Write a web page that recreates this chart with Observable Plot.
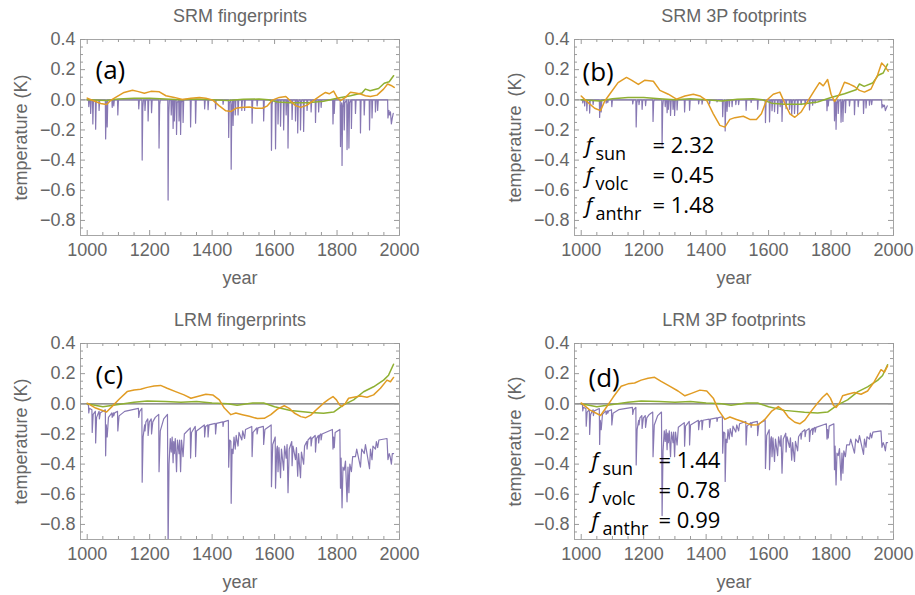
<!DOCTYPE html>
<html><head><meta charset="utf-8">
<script src="https://cdn.jsdelivr.net/npm/d3@7"></script>
<script src="https://cdn.jsdelivr.net/npm/@observablehq/plot@0.6"></script>
<style>
body{margin:0;width:915px;height:595px;overflow:hidden;background:#fff;position:relative}
.p{position:absolute}
</style>
</head><body>
<div id="pa" class="p" style="left:0;top:0"></div>
<div id="pb" class="p" style="left:494px;top:0"></div>
<div id="pc" class="p" style="left:0;top:304px"></div>
<div id="pd" class="p" style="left:494px;top:304px"></div>
<script>
// ---------- data ----------
const panelTitles = ["SRM fingerprints", "SRM 3P footprints", "LRM fingerprints", "LRM 3P footprints"];
const panelLetters = ["(a)", "(b)", "(c)", "(d)"];
const xTickLabels = [1000, 1200, 1400, 1600, 1800, 2000];
const yTickLabels = [-0.8, -0.6, -0.4, -0.2, 0.0, 0.2, 0.4];
const factorNames = ["sun", "volc", "anthr"];
const factorsSRM = [2.32, 0.45, 1.48];   // f_sun, f_volc, f_anthr (panel b)
const factorsLRM = [1.44, 0.78, 0.99];   // f_sun, f_volc, f_anthr (panel d)

// SRM fingerprints (panel a): [year, K]
const volcSRM = [
[1000,0],[1004,0],[1005,-0.045],[1007,0],[1010,0],[1011,-0.09],[1013,0],[1017,0],[1018,-0.16],[1020,0],[1026,0],[1027,-0.195],[1029,0],[1037,0],[1038,-0.07],[1040,0],[1058,0],[1059,-0.26],[1061,-0.04],[1063,0],[1064,-0.18],[1066,0],[1079,0],[1080,-0.05],[1082,0],[1084,0],[1085,-0.04],[1087,0],[1097,0],[1098,-0.10],[1100,0],
[1164,0],[1165,-0.06],[1167,0],[1175,0],[1176,-0.40],[1178,-0.05],[1180,0],[1184,0],[1185,-0.07],[1187,0],[1194,0],[1195,-0.14],[1197,0],[1205,0],[1206,-0.085],[1208,0],[1229,0],[1230,-0.32],[1232,-0.03],[1234,0],[1258,0],[1259,-0.665],[1261,-0.1],[1263,0],[1268,0],[1269,-0.10],[1271,0],[1274,0],[1275,-0.19],[1277,-0.02],[1278,0],[1279,-0.14],[1281,0],[1285,0],[1286,-0.23],[1288,-0.02],[1293,0],[1294,-0.14],[1296,0],[1298,0],[1299,-0.23],[1301,-0.02],[1303,0],[1306,0],[1307,-0.15],[1309,0],
[1330,0],[1331,-0.18],[1333,0],[1346,0],[1347,-0.155],[1349,0],[1375,0],[1376,-0.06],[1378,0],[1386,0],[1387,-0.065],[1389,0],[1410,0],[1411,-0.06],[1413,0],[1434,0],[1435,-0.03],[1437,0],[1452,0],[1453,-0.25],[1455,-0.02],[1460,0],[1461,-0.46],[1463,-0.05],[1466,0],[1467,-0.17],[1469,0],[1473,0],[1474,-0.10],[1476,0],[1482,0],[1483,-0.10],[1485,0],[1494,0],[1495,-0.07],[1497,0],[1503,0],[1504,-0.07],[1506,0],[1527,0],[1528,-0.155],[1530,0],[1543,0],[1544,-0.04],[1546,0],[1564,0],[1565,-0.14],[1567,0],[1589,0],[1590,-0.335],[1592,-0.03],[1594,0],[1602,0],[1603,-0.325],[1605,-0.03],[1607,0],[1610,0],[1611,-0.16],[1613,0],[1618,0],[1619,-0.175],[1621,0],[1628,0],[1629,-0.20],[1631,0],[1636,0],[1637,-0.10],[1639,0],[1642,0],[1643,-0.32],[1645,-0.02],[1647,0],
[1655,0],[1656,-0.13],[1658,0],[1666,0],[1667,-0.14],[1669,0],[1673,0],[1674,-0.22],[1676,-0.02],[1678,0],[1682,0],[1683,-0.20],[1685,-0.02],[1687,0],[1692,0],[1693,-0.21],[1695,0],[1703,0],[1704,-0.07],[1706,0],[1716,0],[1717,-0.08],[1719,0],[1730,0],[1731,-0.15],[1733,0],[1740,0],[1741,-0.08],[1743,0],[1748,0],[1749,-0.05],[1751,0],[1786,0],[1787,-0.16],[1789,0],[1790,0],[1791,-0.09],[1793,0],[1810,0],[1811,-0.31],[1813,-0.05],[1815,-0.02],[1816,-0.435],[1818,-0.05],[1822,0],[1823,-0.20],[1825,-0.02],[1831,0],[1832,-0.33],[1834,-0.05],[1837,0],[1838,-0.32],[1840,-0.02],[1845,0],[1846,-0.19],[1848,0],[1858,0],[1859,-0.09],[1861,0],[1874,0],[1875,-0.22],[1877,0],[1886,0],[1887,-0.10],[1889,0],[1903,0],[1904,-0.20],[1906,0],[1911,0],[1912,-0.12],[1914,0],[1922,0],[1923,-0.08],[1925,0],[1929,0],[1930,-0.07],[1932,0],[1962,0],[1963,-0.12],[1966,-0.07],[1968,-0.10],[1971,-0.08],[1974,-0.16],[1977,-0.12],[1980,-0.09]
];
const sunSRM = [[1000,0.011],[1016,-0.003],[1043,-0.024],[1062,-0.031],[1075,-0.004],[1091,0.016],[1118,0.049],[1145,0.064],[1161,0.056],[1183,0.044],[1204,0.056],[1231,0.053],[1252,0.027],[1279,0.016],[1305,0.002],[1332,0.011],[1359,0.016],[1380,0.011],[1402,-0.002],[1423,-0.04],[1444,-0.073],[1460,-0.078],[1476,-0.056],[1492,-0.051],[1519,-0.047],[1540,-0.056],[1561,-0.056],[1577,-0.04],[1593,-0.002],[1615,0.016],[1636,0.022],[1652,-0.01],[1668,-0.04],[1684,-0.05],[1704,-0.035],[1731,0.004],[1747,0.027],[1763,0.049],[1775,0.04],[1789,0.058],[1800,0.016],[1811,-0.005],[1827,0.016],[1843,0.05],[1859,0.045],[1875,0.038],[1891,0.027],[1907,0.022],[1928,0.031],[1949,0.071],[1962,0.105],[1973,0.095],[1983,0.082]];
const anthSRM = [[1000,0],[1060,-0.005],[1100,0.005],[1150,0.01],[1200,0.01],[1250,0.005],[1300,0.0],[1350,0.005],[1400,0.0],[1450,-0.005],[1500,0.003],[1550,0.005],[1580,0.0],[1610,-0.015],[1650,-0.02],[1704,-0.02],[1757,-0.01],[1800,0.01],[1843,0.027],[1880,0.045],[1891,0.071],[1906,0.06],[1933,0.075],[1951,0.11],[1967,0.12],[1981,0.16]];

// LRM fingerprints (panel c): [year, K]
const volcLRM = [
[1000,0.0],[1004,-0.01],[1005,-0.06],[1007,-0.03],[1015,-0.04],[1016,-0.19],[1019,-0.07],[1026,-0.05],[1027,-0.26],[1030,-0.09],[1038,-0.05],[1039,-0.10],[1042,-0.06],[1058,-0.04],[1059,-0.345],[1061,-0.14],[1064,-0.22],[1068,-0.09],[1079,-0.06],[1080,-0.09],[1084,-0.06],[1085,-0.08],[1088,-0.06],[1097,-0.05],[1098,-0.18],[1102,-0.08],[1120,-0.05],[1164,-0.03],[1165,-0.09],[1168,-0.05],[1175,-0.03],[1176,-0.52],[1179,-0.22],[1184,-0.14],[1185,-0.18],[1188,-0.12],[1194,-0.10],[1195,-0.21],[1199,-0.12],[1205,-0.10],[1206,-0.20],[1210,-0.12],[1218,-0.09],[1229,-0.07],[1230,-0.45],[1234,-0.18],[1245,-0.10],[1257,-0.07],[1259,-0.95],[1262,-0.40],[1266,-0.23],[1269,-0.32],[1272,-0.22],[1275,-0.39],[1277,-0.25],[1279,-0.33],[1282,-0.23],[1286,-0.45],[1289,-0.24],[1294,-0.33],[1296,-0.24],[1299,-0.45],[1302,-0.24],[1307,-0.35],[1311,-0.20],[1330,-0.16],[1331,-0.36],[1334,-0.19],[1346,-0.15],[1347,-0.35],[1350,-0.18],[1375,-0.14],[1376,-0.22],[1379,-0.15],[1386,-0.14],[1387,-0.22],[1390,-0.14],[1410,-0.13],[1411,-0.20],[1414,-0.13],[1434,-0.12],[1435,-0.15],[1437,-0.12],[1452,-0.11],[1453,-0.42],[1456,-0.24],[1460,-0.25],[1461,-0.66],[1464,-0.30],[1467,-0.33],[1470,-0.22],[1474,-0.30],[1477,-0.21],[1483,-0.28],[1486,-0.19],[1495,-0.24],[1498,-0.18],[1504,-0.23],[1507,-0.17],[1527,-0.15],[1528,-0.35],[1531,-0.19],[1543,-0.16],[1544,-0.20],[1547,-0.16],[1564,-0.15],[1565,-0.27],[1569,-0.17],[1589,-0.14],[1590,-0.55],[1594,-0.27],[1602,-0.22],[1603,-0.56],[1607,-0.30],[1609,-0.28],[1611,-0.45],[1614,-0.29],[1619,-0.49],[1622,-0.30],[1629,-0.44],[1632,-0.28],[1637,-0.36],[1640,-0.27],[1643,-0.59],[1647,-0.30],[1655,-0.25],[1656,-0.41],[1659,-0.28],[1667,-0.37],[1670,-0.29],[1674,-0.48],[1677,-0.33],[1683,-0.49],[1686,-0.32],[1693,-0.40],[1696,-0.28],[1703,-0.25],[1704,-0.30],[1707,-0.24],[1716,-0.22],[1717,-0.28],[1720,-0.23],[1730,-0.21],[1731,-0.32],[1734,-0.23],[1740,-0.21],[1741,-0.26],[1744,-0.21],[1748,-0.20],[1749,-0.24],[1752,-0.20],[1785,-0.17],[1787,-0.30],[1789,-0.22],[1791,-0.29],[1794,-0.19],[1809,-0.17],[1811,-0.56],[1813,-0.36],[1816,-0.69],[1819,-0.42],[1823,-0.44],[1827,-0.38],[1832,-0.65],[1835,-0.42],[1838,-0.59],[1841,-0.40],[1846,-0.45],[1850,-0.35],[1859,-0.35],[1863,-0.30],[1875,-0.42],[1879,-0.30],[1887,-0.33],[1891,-0.27],[1904,-0.43],[1907,-0.30],[1912,-0.37],[1915,-0.28],[1923,-0.30],[1926,-0.25],[1930,-0.29],[1934,-0.24],[1960,-0.23],[1963,-0.37],[1967,-0.33],[1970,-0.35],[1974,-0.40],[1977,-0.33],[1981,-0.33]
];
const sunLRM = [[1000,0.004],[1027,-0.028],[1062,-0.054],[1080,-0.017],[1102,0.03],[1128,0.081],[1150,0.092],[1171,0.096],[1192,0.109],[1214,0.118],[1235,0.122],[1256,0.103],[1283,0.081],[1310,0.059],[1332,0.037],[1353,0.048],[1380,0.063],[1402,0.059],[1423,0.026],[1439,-0.028],[1460,-0.072],[1476,-0.061],[1497,-0.072],[1519,-0.083],[1545,-0.098],[1567,-0.096],[1588,-0.072],[1609,-0.035],[1631,-0.013],[1647,-0.03],[1663,-0.061],[1684,-0.085],[1700,-0.092],[1716,-0.075],[1736,-0.035],[1757,0.004],[1773,0.03],[1787,0.048],[1798,0.026],[1808,-0.007],[1816,-0.017],[1827,0.004],[1837,0.037],[1853,0.044],[1875,0.052],[1896,0.044],[1917,0.059],[1939,0.103],[1960,0.157],[1971,0.146],[1981,0.175]];
const anthLRM = [[1000,0],[1050,-0.02],[1100,-0.005],[1150,0.01],[1192,0.018],[1250,0.015],[1300,0.01],[1350,0.015],[1400,0.005],[1450,0],[1480,-0.01],[1530,0.005],[1565,0.005],[1600,-0.02],[1651,-0.044],[1715,-0.057],[1757,-0.062],[1789,-0.055],[1821,-0.007],[1853,0.026],[1885,0.08],[1917,0.113],[1949,0.157],[1965,0.19],[1981,0.262]];

// ---------- drawing ----------
const PURPLE = "#8778B3", ORANGE = "#E19C24", GREEN = "#8FB032";
const GRAY_TXT = "#666666", TICK = "#9a9a9a";
const W = 419, H = 291, ML = 80, MR = 20, MT = 39, MB = 56;
const FW = W - ML - MR, FH = H - MT - MB;
const xMinor = d3.range(1000, 2001, 50).filter(v => v % 200 !== 0);
const yMinor = d3.range(-0.85, 0.41, 0.05).map(v => Math.round(v * 100) / 100).filter(v => Math.round(v * 100) % 20 !== 0);
const BLACKFONT = "Open Sans";
const fmtY = d => d < 0 ? "\u2212" + Math.abs(d).toFixed(1) : d.toFixed(1);

function panel(opts) {
  const fs = opts.factors; // [fsun, fvolc, fanth]
  const marks = [
    Plot.ruleY([0], {stroke: opts.zero, strokeWidth: 1.3}),
    Plot.line(opts.volc, {x: d => d[0], y: d => d[1] * fs[1], stroke: PURPLE, strokeWidth: 1.2, clip: true}),
    Plot.line(opts.anth, {x: d => d[0], y: d => d[1] * fs[2], stroke: GREEN, strokeWidth: 1.5, clip: true}),
    Plot.line(opts.sun, {x: d => d[0], y: d => d[1] * fs[0], stroke: ORANGE, strokeWidth: 1.5, clip: true}),
    Plot.frame({stroke: "#a6a6a6", strokeWidth: 1}),
    Plot.tickX(xTickLabels, {x: d => d, insetTop: FH - 5, stroke: TICK}),
    Plot.tickX(xTickLabels, {x: d => d, insetBottom: FH - 5, stroke: TICK}),
    Plot.tickX(xMinor, {x: d => d, insetTop: FH - 3, stroke: TICK}),
    Plot.tickX(xMinor, {x: d => d, insetBottom: FH - 3, stroke: TICK}),
    Plot.tickY(yTickLabels, {y: d => d, insetRight: FW - 5, stroke: TICK}),
    Plot.tickY(yTickLabels, {y: d => d, insetLeft: FW - 5, stroke: TICK}),
    Plot.tickY(yMinor, {y: d => d, insetRight: FW - 3, stroke: TICK}),
    Plot.tickY(yMinor, {y: d => d, insetLeft: FW - 3, stroke: TICK}),
    Plot.axisX({ticks: xTickLabels, tickSize: 0, tickPadding: 8, fontSize: 18, label: null, tickFormat: d => String(d)}),
    Plot.axisY({ticks: yTickLabels, tickSize: 0, tickPadding: 5, fontSize: 18, label: null, tickFormat: fmtY}),
    Plot.text([opts.title], {text: d => d, frameAnchor: "top", textAnchor: "middle", lineAnchor: "middle", dy: -23, fontSize: 18, fill: GRAY_TXT}),
    Plot.text(["year"], {text: d => d, frameAnchor: "bottom", textAnchor: "middle", lineAnchor: "middle", dy: 43, fontSize: 18, fill: GRAY_TXT}),
    Plot.text([opts.ylab], {text: d => d, frameAnchor: "left", textAnchor: "middle", lineAnchor: "middle", dx: -59, rotate: -90, fontSize: 18, fill: GRAY_TXT}),
    Plot.text([opts.letter], {text: d => d, frameAnchor: "top-left", textAnchor: "start", lineAnchor: "bottom",
      dx: opts.letterPos[0], dy: opts.letterPos[1], fontSize: 26, fill: "#000", fontFamily: BLACKFONT})
  ];
  if (opts.showF) {
    const [fx, sx, ex] = opts.fX;
    opts.fY.forEach((by, i) => {
      marks.push(
        Plot.text(["f"], {text: d => d, frameAnchor: "top-left", textAnchor: "start", lineAnchor: "bottom",
          dx: fx, dy: by, fontSize: 22, fontStyle: "italic", fill: "#000", fontFamily: BLACKFONT}),
        Plot.text([factorNames[i]], {text: d => d, frameAnchor: "top-left", textAnchor: "start", lineAnchor: "bottom",
          dx: sx, dy: by + 7, fontSize: 18, fill: "#000", fontFamily: BLACKFONT}),
        Plot.text(["= " + fs[i].toFixed(2)], {text: d => d, frameAnchor: "top-left", textAnchor: "start", lineAnchor: "bottom",
          dx: ex, dy: by, fontSize: 22, fill: "#000", fontFamily: BLACKFONT})
      );
    });
  }
  return Plot.plot({
    width: W, height: H, marginLeft: ML, marginRight: MR, marginTop: MT, marginBottom: MB,
    x: {domain: [978.5, 2000]},
    y: {domain: [-0.9, 0.4]},
    style: {fontFamily: "Liberation Sans, Arial, sans-serif", color: GRAY_TXT, background: "transparent", overflow: "visible"},
    marks
  });
}

document.getElementById("pa").append(panel({
  title: panelTitles[0], letter: panelLetters[0], ylab: "temperature (K)", letterPos: [15, 39],
  volc: volcSRM, sun: sunSRM, anth: anthSRM, factors: [1, 1, 1], zero: "#a0a0a0", showF: false
}));
document.getElementById("pb").append(panel({
  title: panelTitles[1], letter: panelLetters[1], ylab: "temperature\u2002(K)", letterPos: [8, 41],
  volc: volcSRM, sun: sunSRM, anth: anthSRM, factors: factorsSRM, zero: "#a0a0a0", showF: true,
  fX: [11, 21, 78], fY: [113, 143, 173]
}));
document.getElementById("pc").append(panel({
  title: panelTitles[2], letter: panelLetters[2], ylab: "temperature (K)", letterPos: [15, 40],
  volc: volcLRM, sun: sunLRM, anth: anthLRM, factors: [1, 1, 1], zero: "#707070", showF: false
}));
document.getElementById("pd").append(panel({
  title: panelTitles[3], letter: panelLetters[3], ylab: "temperature\u2002(K)", letterPos: [14, 43],
  volc: volcLRM, sun: sunLRM, anth: anthLRM, factors: factorsLRM, zero: "#707070", showF: true,
  fX: [17, 28, 84], fY: [124, 154, 184]
}));
</script>
</body></html>
